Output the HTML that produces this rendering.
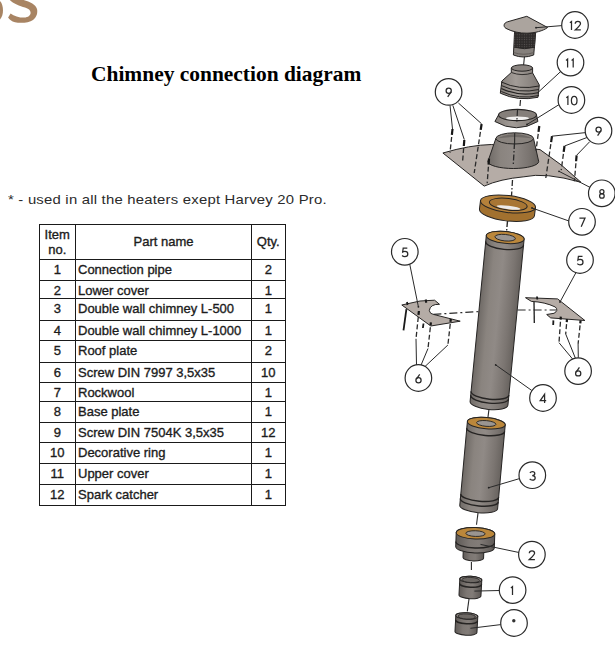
<!DOCTYPE html>
<html><head><meta charset="utf-8"><style>
html,body{margin:0;padding:0;background:#fff;}
body{width:615px;height:646px;position:relative;overflow:hidden;font-family:"Liberation Sans",sans-serif;}
.title{position:absolute;left:91px;top:62px;font-family:"Liberation Serif",serif;font-weight:bold;font-size:21.45px;line-height:24px;color:#000;white-space:nowrap;}
.foot{position:absolute;left:8px;top:191.8px;font-size:13.4px;line-height:16px;color:#2b2b2b;white-space:nowrap;letter-spacing:0.2px;transform:scaleX(1.11);transform-origin:0 0;}
#tb{position:absolute;left:0;top:0;width:615px;height:646px;}
.hl{position:absolute;left:39px;width:247px;height:1.3px;background:#1a1a1a;}
.vl{position:absolute;top:224px;height:282px;width:1.3px;background:#1a1a1a;}
.c,.t{position:absolute;font-size:13px;line-height:16px;color:#1c1c1c;white-space:nowrap;-webkit-text-stroke:0.35px #1c1c1c;}
.c{text-align:center;}
svg{position:absolute;left:0;top:0;}
svg text{font-family:"Liberation Sans",sans-serif;}
</style></head><body>
<svg width="615" height="646" viewBox="0 0 615 646">
<path d="M23.6,0 C30,2 36,4.5 37,9 C37.8,12.5 37,17 33,20 C29,23 20,23.4 15,22.2 C11.5,21.3 9.5,19.8 8.1,17.5 L10.6,13.4 C14,16 19,17.6 24,17.6 C28.5,17.5 30.6,15.3 30.6,12.8 C30.6,10.3 28.5,8.6 25,7.6 C20,6.2 13,3.5 9.8,0 Z" fill="#a88463"/>
<path d="M0,1 C2,3 3,7 3,10.5 C3,14 2,17 0,19.5 Z" fill="#a88463"/>
<defs>
<linearGradient id="gc" x1="0" x2="1" y1="0" y2="0">
<stop offset="0" stop-color="#6f6a66"/><stop offset="0.25" stop-color="#8a847f"/><stop offset="0.5" stop-color="#908a86"/><stop offset="0.8" stop-color="#7b7571"/><stop offset="1" stop-color="#68635f"/>
</linearGradient>
<linearGradient id="gs" x1="0" x2="1" y1="0" y2="0">
<stop offset="0" stop-color="#5f5a57"/><stop offset="0.35" stop-color="#7d7773"/><stop offset="0.6" stop-color="#827c78"/><stop offset="1" stop-color="#5e5956"/>
</linearGradient>
<linearGradient id="gl" x1="0" x2="1" y1="0" y2="0">
<stop offset="0" stop-color="#86807b"/><stop offset="0.4" stop-color="#a29c97"/><stop offset="1" stop-color="#7f7975"/>
</linearGradient>
<linearGradient id="gr" x1="0" x2="1" y1="0" y2="0">
<stop offset="0" stop-color="#9a6a2a"/><stop offset="0.5" stop-color="#b8843c"/><stop offset="1" stop-color="#95662a"/>
</linearGradient>
<pattern id="mesh" width="2.4" height="2.4" patternUnits="userSpaceOnUse"><rect width="2.4" height="2.4" fill="#2e2b2a"/><circle cx="1.2" cy="1.2" r="0.55" fill="#5d5957"/></pattern>
</defs>
<line x1="524.5" y1="56" x2="523.5" y2="66" stroke="#2a2a2a" stroke-width="1.1"/>
<path d="M514.6,31 L535.8,31 L533.7,55 Q523.5,59 513.4,55 Z" fill="#85807c" stroke="#262423" stroke-width="1"/>
<path d="M514.6,31 L535.8,31 L535,47 Q524.5,50 514,47 Z" fill="url(#mesh)"/>
<path d="M514,47.2 Q524.5,50.2 535,47.2" fill="none" stroke="#262423" stroke-width="1"/>
<path d="M513.6,52.5 Q523.6,56 534,52.5" fill="none" stroke="#5a5552" stroke-width="0.8"/>
<path d="M526.8,16.3 L507.5,21.8 C503.5,23 503,26.5 506,28.4 C512,31.6 520,33.4 527,33.2 C535,33 543,31 547.6,27.5 Z" fill="#aba49e" stroke="#262423" stroke-width="1"/>
<line x1="536" y1="27.7" x2="562" y2="25.6" stroke="#2a2a2a" stroke-width="1.0"/>
<circle cx="536" cy="27.7" r="0.9" fill="#222"/>
<circle cx="575" cy="25" r="13.3" fill="#fff" stroke="#2a2a2a" stroke-width="1.2"/><g fill="none" stroke="#2a2a2a" stroke-width="1.25" stroke-linecap="butt"><g transform="translate(569.20,21.30)"><path d="M0.7,1.5 L2.3,0.2 L2.3,8.6"/></g><g transform="translate(574.80,21.30)"><path d="M0.4,2.4 C0.4,1 1.6,0 3.1,0 C4.6,0 5.7,1 5.7,2.4 C5.7,3.8 4.6,4.8 0.4,8.6 L6,8.6"/></g></g>
<path d="M511.3,68 L511.3,72.5 L501.9,81 L500.3,93.2 Q518,101.5 538,97.3 L539.3,85 L532.6,72.9 L532.6,68 Z" fill="url(#gl)" stroke="#262423" stroke-width="1"/>
<path d="M511.3,72.5 Q522,76.5 532.6,72.9" fill="none" stroke="#262423" stroke-width="0.9"/>
<path d="M501.3,82.0 Q519,90.5 539,86.0" fill="none" stroke="#262423" stroke-width="1.0"/>
<path d="M501.3,85.5 Q519,94 539,89.5" fill="none" stroke="#262423" stroke-width="1.0"/>
<path d="M501.3,88.5 Q519,97 539,92.5" fill="none" stroke="#262423" stroke-width="1.2"/>
<path d="M501.3,91.5 Q519,100 539,95.5" fill="none" stroke="#262423" stroke-width="1.0"/>
<ellipse cx="522" cy="68" rx="10.6" ry="3.2" fill="#8a8480" stroke="#262423" stroke-width="1"/>
<line x1="537.4" y1="93" x2="560.7" y2="71.5" stroke="#2a2a2a" stroke-width="1.0"/>
<circle cx="570.5" cy="62.6" r="13.3" fill="#fff" stroke="#2a2a2a" stroke-width="1.2"/><g fill="none" stroke="#2a2a2a" stroke-width="1.25" stroke-linecap="butt"><g transform="translate(565.30,58.90)"><path d="M0.7,1.5 L2.3,0.2 L2.3,8.6"/></g><g transform="translate(570.90,58.90)"><path d="M0.7,1.5 L2.3,0.2 L2.3,8.6"/></g></g>
<line x1="520.5" y1="100" x2="519.8" y2="108" stroke="#2a2a2a" stroke-width="1.2" stroke-dasharray="6 2 1.5 2"/>
<path d="M498.5,115 L494.9,121.5 Q516.4,134 537.9,121.5 L536.5,115 Z" fill="url(#gl)" stroke="#262423" stroke-width="1"/>
<ellipse cx="517.5" cy="115" rx="19" ry="5.6" fill="#857f7a" stroke="#262423" stroke-width="1.1"/>
<ellipse cx="517.5" cy="118.2" rx="11.5" ry="1.7" fill="#f2f1f0"/>
<line x1="517.5" y1="110" x2="516.8" y2="122" stroke="#2a2a2a" stroke-width="1.2" stroke-dasharray="6 2 1.5 2"/>
<line x1="527" y1="124.5" x2="560" y2="104" stroke="#2a2a2a" stroke-width="1.0"/>
<circle cx="527" cy="124.5" r="0.9" fill="#222"/>
<circle cx="571.4" cy="100" r="13.3" fill="#fff" stroke="#2a2a2a" stroke-width="1.2"/><g fill="none" stroke="#2a2a2a" stroke-width="1.25" stroke-linecap="butt"><g transform="translate(565.60,96.30)"><path d="M0.7,1.5 L2.3,0.2 L2.3,8.6"/></g><g transform="translate(571.20,96.30)"><ellipse cx="3" cy="4.3" rx="2.8" ry="4.3"/></g></g>
<path d="M442.9,153 Q470,145 491.3,144.5 L540,149.6 Q562,164 581,182.3 Q545,172 523.9,176.8 Q500,179 484.2,186.1 Z" fill="#b5aca6" stroke="#262423" stroke-width="1"/>
<path d="M495.9,138.4 L487.9,161.5 A25.4,7 0 0 0 538.7,161.5 L533.5,138.4 Z" fill="url(#gc)" stroke="#262423" stroke-width="1"/>
<ellipse cx="514.7" cy="138.4" rx="18.8" ry="5.6" fill="#8a847f" stroke="#262423" stroke-width="1"/>
<path d="M496.5,138.6 Q514.7,130 533,138.6 Q514.7,135.5 496.5,138.6 Z" fill="#6e6965"/>
<line x1="514.7" y1="133" x2="514.6" y2="143.5" stroke="#2a2a2a" stroke-width="1.1"/>
<line x1="559" y1="171.3" x2="590.8" y2="187.8" stroke="#2a2a2a" stroke-width="1.0"/>
<circle cx="559" cy="171.3" r="0.9" fill="#222"/>
<circle cx="601.8" cy="193.3" r="13.3" fill="#fff" stroke="#2a2a2a" stroke-width="1.2"/><g fill="none" stroke="#2a2a2a" stroke-width="1.25" stroke-linecap="butt"><g transform="translate(598.80,189.60)"><circle cx="3.1" cy="2.1" r="2.05"/><circle cx="3.1" cy="6.3" r="2.3"/></g></g>
<line x1="452.5" y1="129" x2="451.87" y2="134.97" stroke="#161616" stroke-width="2.2"/><line x1="451.66" y1="136.96" x2="450" y2="152.6" stroke="#2b2b2b" stroke-width="1.3" stroke-dasharray="5 2.5"/>
<line x1="464.3" y1="140" x2="463.83" y2="145.98" stroke="#161616" stroke-width="2.2"/><line x1="463.67" y1="147.98" x2="462.5" y2="162.8" stroke="#2b2b2b" stroke-width="1.3" stroke-dasharray="5 2.5"/>
<line x1="481.6" y1="124" x2="480.70" y2="129.93" stroke="#161616" stroke-width="2.2"/><line x1="480.41" y1="131.91" x2="474.2" y2="173" stroke="#2b2b2b" stroke-width="1.3" stroke-dasharray="5 2.5"/>
<line x1="489" y1="158.7" x2="488.56" y2="164.68" stroke="#161616" stroke-width="2.2"/><line x1="488.41" y1="166.68" x2="487.2" y2="183.2" stroke="#2b2b2b" stroke-width="1.3" stroke-dasharray="5 2.5"/>
<line x1="552" y1="136.2" x2="551.12" y2="142.14" stroke="#161616" stroke-width="2.2"/><line x1="550.83" y1="144.11" x2="545.8" y2="178" stroke="#2b2b2b" stroke-width="1.3" stroke-dasharray="5 2.5"/>
<line x1="564.5" y1="146" x2="563.69" y2="151.94" stroke="#161616" stroke-width="2.2"/><line x1="563.42" y1="153.93" x2="561.2" y2="170.2" stroke="#2b2b2b" stroke-width="1.3" stroke-dasharray="5 2.5"/>
<line x1="576.6" y1="155.3" x2="576.09" y2="161.28" stroke="#161616" stroke-width="2.2"/><line x1="575.92" y1="163.27" x2="574.4" y2="181.2" stroke="#2b2b2b" stroke-width="1.3" stroke-dasharray="5 2.5"/>
<line x1="539.3" y1="126" x2="538.50" y2="131.95" stroke="#161616" stroke-width="2.2"/><line x1="538.23" y1="133.93" x2="536" y2="150.5" stroke="#2b2b2b" stroke-width="1.3" stroke-dasharray="5 2.5"/>
<line x1="514.5" y1="143" x2="513.2" y2="166" stroke="#2a2a2a" stroke-width="1.3" stroke-dasharray="6 2 1.5 2"/>
<line x1="512.5" y1="180" x2="511.5" y2="196" stroke="#2a2a2a" stroke-width="1.3" stroke-dasharray="6 2 1.5 2"/>
<line x1="450" y1="105.3" x2="452.5" y2="129" stroke="#2a2a2a" stroke-width="1.0"/>
<line x1="452.8" y1="105.3" x2="464.3" y2="139.6" stroke="#2a2a2a" stroke-width="1.0"/>
<line x1="458.4" y1="103" x2="481.6" y2="123.8" stroke="#2a2a2a" stroke-width="1.0"/>
<circle cx="448.6" cy="91.9" r="13.3" fill="#fff" stroke="#2a2a2a" stroke-width="1.2"/><g fill="none" stroke="#2a2a2a" stroke-width="1.25" stroke-linecap="butt"><g transform="translate(445.60,88.20)"><circle cx="3.1" cy="2.6" r="2.6"/><path d="M5.5,3.6 L2.1,8.6"/></g></g>
<line x1="586.5" y1="132.5" x2="552" y2="136.2" stroke="#2a2a2a" stroke-width="1.0"/>
<line x1="587.5" y1="137.3" x2="564.5" y2="146" stroke="#2a2a2a" stroke-width="1.0"/>
<line x1="589.7" y1="141.7" x2="576.6" y2="155.3" stroke="#2a2a2a" stroke-width="1.0"/>
<circle cx="598.5" cy="130.7" r="13.3" fill="#fff" stroke="#2a2a2a" stroke-width="1.2"/><g fill="none" stroke="#2a2a2a" stroke-width="1.25" stroke-linecap="butt"><g transform="translate(595.50,127.00)"><circle cx="3.1" cy="2.6" r="2.6"/><path d="M5.5,3.6 L2.1,8.6"/></g></g>
<g transform="rotate(7 508 204)"><path d="M480.3,204 L480.3,212.5 A27.7,8.5 0 0 0 535.7,212.5 L535.7,204 Z" fill="#a2712f" stroke="#262423" stroke-width="1"/><ellipse cx="508" cy="204" rx="27.7" ry="8.5" fill="#b5813a" stroke="#262423" stroke-width="1"/><ellipse cx="508.3" cy="204.3" rx="19" ry="5.8" fill="#a87634" stroke="#262423" stroke-width="1"/><ellipse cx="509" cy="207.4" rx="12" ry="1.8" fill="#ecebea"/></g>
<line x1="532" y1="208" x2="569" y2="221" stroke="#2a2a2a" stroke-width="1.0"/>
<circle cx="532" cy="208" r="0.9" fill="#222"/>
<circle cx="582" cy="221.8" r="13.3" fill="#fff" stroke="#2a2a2a" stroke-width="1.2"/><g fill="none" stroke="#2a2a2a" stroke-width="1.25" stroke-linecap="butt"><g transform="translate(579.10,218.10)"><path d="M0.3,0 L5.9,0 L2.1,8.6"/></g></g>
<line x1="507.5" y1="221" x2="506.5" y2="232" stroke="#2a2a2a" stroke-width="1.4" stroke-dasharray="6 2 1.5 2"/>
<path d="M401.8,305 L420,301 L434.6,300.2 L439.5,304.3 Q430,304 429.3,310.7 Q430,314 433.4,314.4 L460.2,321.2 L430.8,326 Z" fill="#b5aca6" stroke="#262423" stroke-width="1"/>
<path d="M525.5,297.7 L557.6,298.9 L584.9,320.5 L550.7,317.9 L546.7,314.5 L554,313.3 Q559,310.5 555.3,307 Q545,302 531.4,301.4 Z" fill="#b5aca6" stroke="#262423" stroke-width="1"/>
<line x1="433.4" y1="314.4" x2="480" y2="311.5" stroke="#2a2a2a" stroke-width="1.2" stroke-dasharray="8 3 2 3"/>
<line x1="517.6" y1="310" x2="556" y2="310" stroke="#2a2a2a" stroke-width="1.2" stroke-dasharray="8 3 2 3"/>
<circle cx="404.8" cy="251.8" r="13.3" fill="#fff" stroke="#2a2a2a" stroke-width="1.2"/><g fill="none" stroke="#2a2a2a" stroke-width="1.25" stroke-linecap="butt"><g transform="translate(401.80,248.10)"><path d="M5.5,0 L1.4,0 L0.9,3.8 C1.5,3.4 2.3,3.2 3.1,3.2 C4.8,3.2 6,4.4 6,5.9 C6,7.5 4.7,8.6 3,8.6 C1.9,8.6 0.9,8.1 0.3,7.4"/></g></g>
<line x1="409.8" y1="264.5" x2="418.4" y2="306.8" stroke="#2a2a2a" stroke-width="1.0"/>
<circle cx="418.4" cy="306.8" r="0.9" fill="#222"/>
<circle cx="580" cy="260" r="13.3" fill="#fff" stroke="#2a2a2a" stroke-width="1.2"/><g fill="none" stroke="#2a2a2a" stroke-width="1.25" stroke-linecap="butt"><g transform="translate(577.00,256.30)"><path d="M5.5,0 L1.4,0 L0.9,3.8 C1.5,3.4 2.3,3.2 3.1,3.2 C4.8,3.2 6,4.4 6,5.9 C6,7.5 4.7,8.6 3,8.6 C1.9,8.6 0.9,8.1 0.3,7.4"/></g></g>
<line x1="576" y1="272.5" x2="560" y2="302" stroke="#2a2a2a" stroke-width="1.0"/>
<circle cx="560" cy="302" r="0.9" fill="#222"/>
<line x1="406.4" y1="309.2" x2="403.5" y2="330.3" stroke="#1a1a1a" stroke-width="1.8"/>
<line x1="418.9" y1="311" x2="418.48" y2="314.98" stroke="#161616" stroke-width="2.2"/><line x1="418.28" y1="316.97" x2="416" y2="338.8" stroke="#2b2b2b" stroke-width="1.3" stroke-dasharray="5 2.5"/>
<line x1="423.5" y1="323.5" x2="422.9" y2="328" stroke="#1a1a1a" stroke-width="1.8"/>
<line x1="430.9" y1="322.3" x2="430.57" y2="325.28" stroke="#161616" stroke-width="2.2"/><line x1="430.35" y1="327.27" x2="428" y2="348.5" stroke="#2b2b2b" stroke-width="1.3" stroke-dasharray="5 2.5"/>
<line x1="450.8" y1="318.9" x2="450.47" y2="321.88" stroke="#161616" stroke-width="2.2"/><line x1="450.25" y1="323.87" x2="447.9" y2="345" stroke="#2b2b2b" stroke-width="1.3" stroke-dasharray="5 2.5"/>
<line x1="425.7" y1="299.5" x2="426.3" y2="302.8" stroke="#1a1a1a" stroke-width="2"/>
<line x1="407" y1="302" x2="407.5" y2="305" stroke="#1a1a1a" stroke-width="1.8"/>
<line x1="416" y1="338.8" x2="416.5" y2="365" stroke="#2a2a2a" stroke-width="1.0"/>
<line x1="428" y1="348.5" x2="421" y2="365.2" stroke="#2a2a2a" stroke-width="1.0"/>
<line x1="447.9" y1="345" x2="425" y2="366.5" stroke="#2a2a2a" stroke-width="1.0"/>
<circle cx="418.4" cy="378" r="13.3" fill="#fff" stroke="#2a2a2a" stroke-width="1.2"/><g fill="none" stroke="#2a2a2a" stroke-width="1.25" stroke-linecap="butt"><g transform="translate(415.40,374.30)"><path d="M4.3,0 L1,4.8"/><circle cx="3.1" cy="6" r="2.6"/></g></g>
<line x1="534" y1="301.8" x2="534.3" y2="322.9" stroke="#1a1a1a" stroke-width="1.3"/>
<line x1="553.4" y1="320.4" x2="553.2" y2="325" stroke="#1a1a1a" stroke-width="1.8"/>
<line x1="560.8" y1="316.7" x2="560.59" y2="319.69" stroke="#161616" stroke-width="2.2"/><line x1="560.45" y1="321.69" x2="559" y2="342.7" stroke="#2b2b2b" stroke-width="1.3" stroke-dasharray="5 2.5"/>
<line x1="567" y1="319.2" x2="566.74" y2="322.19" stroke="#161616" stroke-width="2.2"/><line x1="566.56" y1="324.18" x2="565.7" y2="334" stroke="#2b2b2b" stroke-width="1.3" stroke-dasharray="5 2.5"/>
<line x1="580.6" y1="320.4" x2="580.28" y2="323.38" stroke="#161616" stroke-width="2.2"/><line x1="580.07" y1="325.37" x2="578.1" y2="343.9" stroke="#2b2b2b" stroke-width="1.3" stroke-dasharray="5 2.5"/>
<line x1="537" y1="296.5" x2="537.3" y2="299.5" stroke="#1a1a1a" stroke-width="1.8"/>
<line x1="559" y1="342.7" x2="573" y2="359.5" stroke="#2a2a2a" stroke-width="1.0"/>
<line x1="565.7" y1="334" x2="575.5" y2="358.5" stroke="#2a2a2a" stroke-width="1.0"/>
<line x1="578.1" y1="343.9" x2="578.3" y2="357.8" stroke="#2a2a2a" stroke-width="1.0"/>
<circle cx="578.1" cy="371.1" r="13.3" fill="#fff" stroke="#2a2a2a" stroke-width="1.2"/><g fill="none" stroke="#2a2a2a" stroke-width="1.25" stroke-linecap="butt"><g transform="translate(575.10,367.40)"><path d="M4.3,0 L1,4.8"/><circle cx="3.1" cy="6" r="2.6"/></g></g>
<g transform="translate(505.2,237.4) rotate(5.573865609153785)"><path d="M-19,0 L-19,166.8 A19,6 0 0 0 19,166.8 L19,0 A19,6 0 0 0 -19,0 Z" fill="url(#gc)" stroke="#262423" stroke-width="1.0"/><path d="M-19,6 A19,6 0 0 0 19,6" fill="none" stroke="#262423" stroke-width="1.4"/><path d="M-19,156.60000000000002 A19,6 0 0 0 19,156.60000000000002" fill="none" stroke="#262423" stroke-width="1.4"/><path d="M-19,160.5 A19,6 0 0 0 19,160.5" fill="none" stroke="#262423" stroke-width="1.4"/><ellipse cx="0" cy="0" rx="19" ry="6" fill="#bb873b" stroke="#262423" stroke-width="1.0"/><ellipse cx="0" cy="0.30000000000000004" rx="10.260000000000002" ry="3.24" fill="#9a9591" stroke="#262423" stroke-width="0.9"/></g>
<line x1="495.7" y1="364.9" x2="531.8" y2="390.5" stroke="#2a2a2a" stroke-width="1.0"/>
<circle cx="495.7" cy="364.9" r="0.9" fill="#222"/>
<circle cx="543" cy="398" r="13.3" fill="#fff" stroke="#2a2a2a" stroke-width="1.2"/><g fill="none" stroke="#2a2a2a" stroke-width="1.25" stroke-linecap="butt"><g transform="translate(540.00,394.30)"><path d="M4.6,8.6 L4.6,0 L0.2,6.3 L6.2,6.3"/></g></g>
<line x1="489" y1="409" x2="488" y2="417" stroke="#2a2a2a" stroke-width="1.1"/>
<g transform="translate(486.3,423.2) rotate(5.1820992803131)"><path d="M-19,0 L-19,84.2 A19,5.6 0 0 0 19,84.2 L19,0 A19,5.6 0 0 0 -19,0 Z" fill="url(#gc)" stroke="#262423" stroke-width="1.0"/><path d="M-19,6.7 A19,5.6 0 0 0 19,6.7" fill="none" stroke="#262423" stroke-width="1.4"/><path d="M-19,72.8 A19,5.6 0 0 0 19,72.8" fill="none" stroke="#262423" stroke-width="1.4"/><path d="M-19,77.5 A19,5.6 0 0 0 19,77.5" fill="none" stroke="#262423" stroke-width="1.4"/><ellipse cx="0" cy="0" rx="19" ry="5.6" fill="#bb873b" stroke="#262423" stroke-width="1.0"/><ellipse cx="0" cy="0.27999999999999997" rx="9.69" ry="2.856" fill="#9a9591" stroke="#262423" stroke-width="0.9"/></g>
<line x1="488.7" y1="487.7" x2="520.2" y2="478.4" stroke="#2a2a2a" stroke-width="1.0"/>
<circle cx="488.7" cy="487.7" r="0.9" fill="#222"/>
<circle cx="532.3" cy="475.2" r="13.3" fill="#fff" stroke="#2a2a2a" stroke-width="1.2"/><g fill="none" stroke="#2a2a2a" stroke-width="1.25" stroke-linecap="butt"><g transform="translate(529.40,471.50)"><path d="M0.5,1.3 C1.1,0.4 2.1,0 3,0 C4.5,0 5.4,0.9 5.4,2.1 C5.4,3.3 4.4,4.1 2.8,4.1 C4.8,4.1 5.8,5.1 5.8,6.4 C5.8,7.7 4.6,8.6 3,8.6 C1.9,8.6 0.9,8.2 0.3,7.4"/></g></g>
<line x1="478" y1="513" x2="476.5" y2="524.7" stroke="#2a2a2a" stroke-width="1.1"/>
<g transform="translate(473.6,549) rotate(2)"><path d="M-10.3,0 L-10.3,8.8 A10.3,3.2 0 0 0 10.3,8.8 L10.3,0 A10.3,3.2 0 0 0 -10.3,0 Z" fill="url(#gs)" stroke="#262423" stroke-width="1.0"/><ellipse cx="0" cy="0" rx="10.3" ry="3.2" fill="#8a8581" stroke="#262423" stroke-width="1.0"/></g>
<g transform="translate(475.5,533.3) rotate(2)"><path d="M-19.3,0 L-19.3,14 A19.3,5.7 0 0 0 19.3,14 L19.3,0 A19.3,5.7 0 0 0 -19.3,0 Z" fill="url(#gs)" stroke="#262423" stroke-width="1.0"/><path d="M-19.3,9 A19.3,5.7 0 0 0 19.3,9" fill="none" stroke="#262423" stroke-width="1.4"/><ellipse cx="0" cy="0" rx="19.3" ry="5.7" fill="#bb873b" stroke="#262423" stroke-width="1.0"/><ellipse cx="0" cy="0.28500000000000003" rx="9.65" ry="2.85" fill="#9a9591" stroke="#262423" stroke-width="0.9"/></g>
<line x1="480.5" y1="544.4" x2="519" y2="552.5" stroke="#2a2a2a" stroke-width="1.0"/>
<circle cx="531.9" cy="554.6" r="13.3" fill="#fff" stroke="#2a2a2a" stroke-width="1.2"/><g fill="none" stroke="#2a2a2a" stroke-width="1.25" stroke-linecap="butt"><g transform="translate(528.90,550.90)"><path d="M0.4,2.4 C0.4,1 1.6,0 3.1,0 C4.6,0 5.7,1 5.7,2.4 C5.7,3.8 4.6,4.8 0.4,8.6 L6,8.6"/></g></g>
<line x1="471.4" y1="562" x2="471.4" y2="570" stroke="#2a2a2a" stroke-width="1.1"/>
<g transform="translate(470.8,579.5) rotate(3)"><path d="M-11,0 L-11,16 A11,3.2 0 0 0 11,16 L11,0 A11,3.2 0 0 0 -11,0 Z" fill="url(#gs)" stroke="#262423" stroke-width="1.0"/><path d="M-11,4.5 A11,3.2 0 0 0 11,4.5" fill="none" stroke="#262423" stroke-width="1.4"/><ellipse cx="0" cy="0" rx="11" ry="3.2" fill="#8f8a86" stroke="#262423" stroke-width="1.0"/><ellipse cx="0" cy="0.48" rx="8.8" ry="2.5600000000000005" fill="#6d6864" stroke="#262423" stroke-width="0.8"/></g>
<line x1="474.4" y1="591.1" x2="499.4" y2="590.5" stroke="#2a2a2a" stroke-width="1.0"/>
<circle cx="512.6" cy="590.1" r="13.3" fill="#fff" stroke="#2a2a2a" stroke-width="1.2"/><g fill="none" stroke="#2a2a2a" stroke-width="1.25" stroke-linecap="butt"><g transform="translate(510.20,586.40)"><path d="M0.7,1.5 L2.3,0.2 L2.3,8.6"/></g></g>
<line x1="469" y1="599" x2="467.3" y2="611.4" stroke="#2a2a2a" stroke-width="1.1"/>
<g transform="translate(466.8,616) rotate(3)"><path d="M-11,0 L-11,16 A11,3.2 0 0 0 11,16 L11,0 A11,3.2 0 0 0 -11,0 Z" fill="url(#gs)" stroke="#262423" stroke-width="1.0"/><path d="M-11,4.5 A11,3.2 0 0 0 11,4.5" fill="none" stroke="#262423" stroke-width="1.4"/><ellipse cx="0" cy="0" rx="11" ry="3.2" fill="#8f8a86" stroke="#262423" stroke-width="1.0"/><ellipse cx="0" cy="0.48" rx="8.8" ry="2.5600000000000005" fill="#6d6864" stroke="#262423" stroke-width="0.8"/></g>
<line x1="470.4" y1="628.3" x2="500.8" y2="624.6" stroke="#2a2a2a" stroke-width="1.0"/>
<circle cx="514" cy="623" r="13.3" fill="#fff" stroke="#2a2a2a" stroke-width="1.2"/>
<circle cx="513.8" cy="620.8" r="1.7" fill="#333"/>
</svg>
<div class="title">Chimney connection diagram</div>
<div class="foot">* - used in all the heaters exept Harvey 20 Pro.</div>
<div id="tb">
<div class="hl" style="top:224px"></div>
<div class="hl" style="top:259px"></div>
<div class="hl" style="top:280px"></div>
<div class="hl" style="top:298px"></div>
<div class="hl" style="top:320px"></div>
<div class="hl" style="top:340px"></div>
<div class="hl" style="top:362px"></div>
<div class="hl" style="top:382px"></div>
<div class="hl" style="top:401px"></div>
<div class="hl" style="top:422px"></div>
<div class="hl" style="top:442px"></div>
<div class="hl" style="top:463px"></div>
<div class="hl" style="top:484px"></div>
<div class="hl" style="top:505px"></div>
<div class="vl" style="left:39px"></div>
<div class="vl" style="left:75px"></div>
<div class="vl" style="left:251px"></div>
<div class="vl" style="left:285px"></div>
<div class="c" style="left:39px;width:36.5px;top:227.3px;line-height:15px">Item<br>no.</div>
<div class="c" style="left:75.5px;width:176px;top:234.3px">Part name</div>
<div class="c" style="left:251.5px;width:33.5px;top:234.3px">Qty.</div>
<div class="c" style="left:39px;width:36.5px;top:262.2px">1</div>
<div class="t" style="left:78px;top:262.2px">Connection pipe</div>
<div class="c" style="left:251.5px;width:33.5px;top:262.2px">2</div>
<div class="c" style="left:39px;width:36.5px;top:283.2px">2</div>
<div class="t" style="left:78px;top:283.2px">Lower cover</div>
<div class="c" style="left:251.5px;width:33.5px;top:283.2px">1</div>
<div class="c" style="left:39px;width:36.5px;top:301.2px">3</div>
<div class="t" style="left:78px;top:301.2px">Double wall chimney L-500</div>
<div class="c" style="left:251.5px;width:33.5px;top:301.2px">1</div>
<div class="c" style="left:39px;width:36.5px;top:323.2px">4</div>
<div class="t" style="left:78px;top:323.2px">Double wall chimney L-1000</div>
<div class="c" style="left:251.5px;width:33.5px;top:323.2px">1</div>
<div class="c" style="left:39px;width:36.5px;top:343.2px">5</div>
<div class="t" style="left:78px;top:343.2px">Roof plate</div>
<div class="c" style="left:251.5px;width:33.5px;top:343.2px">2</div>
<div class="c" style="left:39px;width:36.5px;top:365.2px">6</div>
<div class="t" style="left:78px;top:365.2px">Screw DIN 7997 3,5x35</div>
<div class="c" style="left:251.5px;width:33.5px;top:365.2px">10</div>
<div class="c" style="left:39px;width:36.5px;top:385.2px">7</div>
<div class="t" style="left:78px;top:385.2px">Rockwool</div>
<div class="c" style="left:251.5px;width:33.5px;top:385.2px">1</div>
<div class="c" style="left:39px;width:36.5px;top:404.2px">8</div>
<div class="t" style="left:78px;top:404.2px">Base plate</div>
<div class="c" style="left:251.5px;width:33.5px;top:404.2px">1</div>
<div class="c" style="left:39px;width:36.5px;top:425.2px">9</div>
<div class="t" style="left:78px;top:425.2px">Screw DIN 7504K 3,5x35</div>
<div class="c" style="left:251.5px;width:33.5px;top:425.2px">12</div>
<div class="c" style="left:39px;width:36.5px;top:445.2px">10</div>
<div class="t" style="left:78px;top:445.2px">Decorative ring</div>
<div class="c" style="left:251.5px;width:33.5px;top:445.2px">1</div>
<div class="c" style="left:39px;width:36.5px;top:466.2px">11</div>
<div class="t" style="left:78px;top:466.2px">Upper cover</div>
<div class="c" style="left:251.5px;width:33.5px;top:466.2px">1</div>
<div class="c" style="left:39px;width:36.5px;top:487.2px">12</div>
<div class="t" style="left:78px;top:487.2px">Spark catcher</div>
<div class="c" style="left:251.5px;width:33.5px;top:487.2px">1</div>
</div>
</body></html>
